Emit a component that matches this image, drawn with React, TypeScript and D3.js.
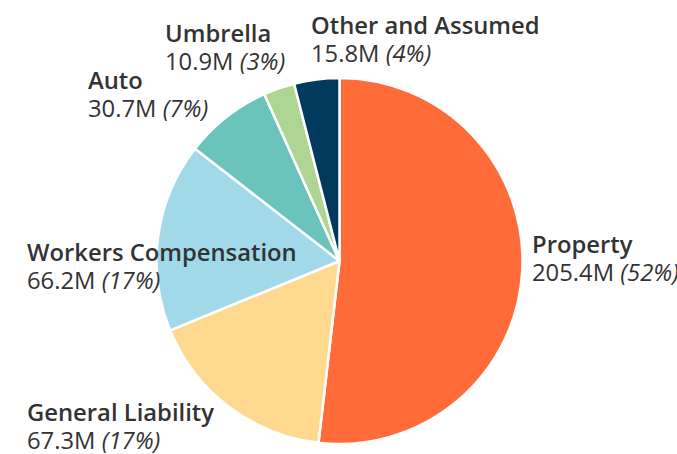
import React from "react";
import * as d3 from "d3";

const categories = ["Property", "General Liability", "Workers Compensation", "Auto", "Umbrella", "Other and Assumed"];
const values = [205.4, 67.3, 66.2, 30.7, 10.9, 15.8];
const valueLabels = ["205.4M", "67.3M", "66.2M", "30.7M", "10.9M", "15.8M"];
const percentLabels = ["(52%)", "(17%)", "(17%)", "(7%)", "(3%)", "(4%)"];
const colors = ["#ff6b39", "#fed98f", "#a2d9e9", "#6bc4bb", "#aed591", "#023a5d"];

// label layout (text positions)
const labelLayout: [number, number][] = [
  [532, 253],
  [27, 421],
  [27, 261],
  [88, 89],
  [165, 42],
  [311, 34],
];

const W = 677;
const H = 454;
const cx = 339.5;
const cy = 261;
const R = 183;

export default function App() {
  const pie = d3.pie<number>().sort(null).value((d) => d)(values);
  const arc = d3.arc<d3.PieArcDatum<number>>().innerRadius(0).outerRadius(R);
  return (
    <svg width={W} height={H} style={{ position: "absolute", left: 0, top: 0 }}>
      <g transform={`translate(${cx},${cy})`}>
        {pie.map((p, i) => (
          <path key={i} d={arc(p) || ""} fill={colors[i]} stroke="#fff" strokeWidth={2.5} strokeLinejoin="round" />
        ))}
      </g>
      {categories.map((c, i) => {
        const [x, y] = labelLayout[i];
        return (
          <g key={c} fontFamily="'Open Sans', sans-serif" fontSize={23.8} fill="#333">
            <text x={x} y={y} fontWeight={600}>{c}</text>
            <text x={x} y={y + 28}>
              {valueLabels[i]} <tspan fontStyle="italic">{percentLabels[i]}</tspan>
            </text>
          </g>
        );
      })}
    </svg>
  );
}
